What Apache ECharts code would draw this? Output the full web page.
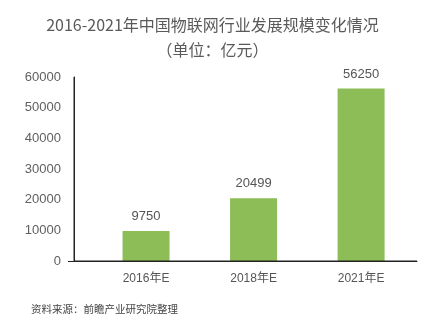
<!DOCTYPE html>
<html>
<head>
<meta charset="utf-8">
<script src="https://cdn.jsdelivr.net/npm/echarts@6/dist/echarts.min.js"></script>
<style>
  html, body { margin: 0; padding: 0; background: #fff; }
  #chart { width: 425px; height: 325px; }
</style>
</head>
<body>
<div id="chart"></div>
<script>
// Market size of China's IoT industry, 2016-2021 (unit: 100 million yuan)
const categories = ['2016年E', '2018年E', '2021年E'];
const marketSize = [9750, 20499, 56250];
const yTicks = [0, 10000, 20000, 30000, 40000, 50000, 60000];

const titleLine = '2016-2021年中国物联网行业发展规模变化情况';
const unitLine = '（单位：亿元）';
const sourceNote = '资料来源：前瞻产业研究院整理';

const fontFamily = '"Liberation Sans", Arial, "Noto Sans CJK SC", sans-serif';
const cjkFont = '"Noto Sans CJK SC", "Liberation Sans", sans-serif';

const xMin = -0.67;
const xMax = 2.52;
const yMin = yTicks[0];
const yMax = yTicks[yTicks.length - 1];
const axisColor = '#222222';

const chart = echarts.init(document.getElementById('chart'));

chart.setOption({
  animation: false,
  title: [
    {
      text: titleLine,
      left: 'center',
      top: 12,
      textStyle: { fontFamily: cjkFont, fontSize: 16, fontWeight: 'normal', color: '#5a5a5a' }
    },
    {
      text: unitLine,
      left: 'center',
      top: 37,
      textStyle: { fontFamily: cjkFont, fontSize: 16, fontWeight: 'normal', color: '#5a5a5a' }
    },
    {
      text: sourceNote,
      left: 26,
      top: 299,
      textStyle: { fontFamily: cjkFont, fontSize: 10.5, fontWeight: 'normal', color: '#444444' }
    }
  ],
  grid: { left: 74, right: 8, top: 77, bottom: 64 },
  xAxis: {
    type: 'value',
    min: xMin,
    max: xMax,
    splitLine: { show: false },
    axisLine: { show: true, lineStyle: { color: axisColor, width: 1 } },
    axisTick: { show: false },
    axisLabel: {
      customValues: [0, 1, 2],
      formatter: function (v) { return categories[Math.round(v)] || ''; },
      margin: 12,
      fontFamily: fontFamily,
      fontSize: 12,
      color: '#555555'
    }
  },
  yAxis: {
    type: 'value',
    min: yMin,
    max: yMax,
    interval: yTicks[1] - yTicks[0],
    splitLine: { show: false },
    axisLine: { show: true, onZero: false, lineStyle: { color: axisColor, width: 1 } },
    axisTick: { show: true, customValues: [0], length: 6, lineStyle: { color: axisColor } },
    axisLabel: {
      margin: 13,
      formatter: function (v) { return String(v); },
      fontFamily: fontFamily,
      fontSize: 13,
      color: '#606060'
    }
  },
  series: [
    {
      type: 'bar',
      barWidth: 47,
      data: marketSize.map((v, i) => [i, v]),
      itemStyle: { color: '#8dbd56' },
      label: {
        show: true,
        position: 'top',
        distance: 8,
        formatter: function (p) { return p.value[1]; },
        fontFamily: fontFamily,
        fontSize: 13,
        color: '#555555'
      }
    },
    {
      // plot frame: value-axis line and baseline along the axis extents
      type: 'line',
      z: 20,
      clip: false,
      silent: true,
      symbol: 'none',
      lineStyle: { color: axisColor, width: 1 },
      data: [[xMin, yMax], [xMin, yMin], [xMax, yMin]]
    }
  ]
});
</script>
</body>
</html>
